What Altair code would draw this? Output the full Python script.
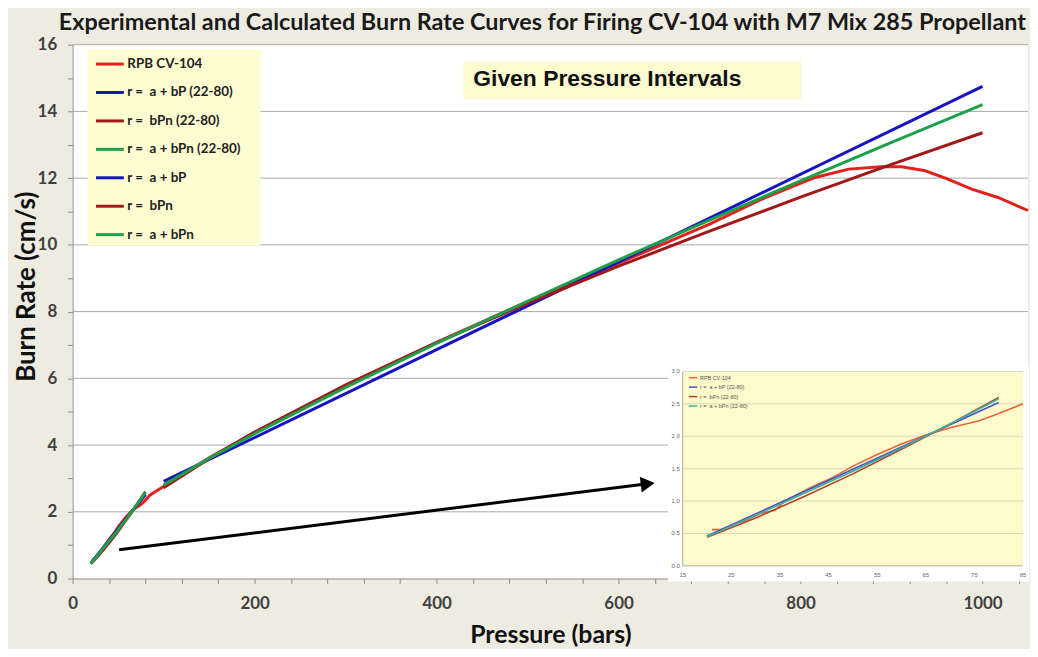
import altair as alt
import pandas as pd

# ---------------- data ----------------
NB = "\u00a0"
series_names = ["RPB CV-104", f"r ={NB} a + bP (22-80)", f"r ={NB} bPn (22-80)", f"r ={NB} a + bPn (22-80)",
                f"r ={NB} a + bP", f"r ={NB} bPn", f"r ={NB} a + bPn"]
series_colors = ["#E3211C", "#1414C0", "#A01818", "#1F9E4B", "#1414C0", "#A01818", "#1F9E4B"]

rpb_p = [21, 23, 26, 28, 31, 34, 36, 41, 46, 50, 55, 60, 65, 70, 76, 80, 85, 92, 100, 150, 200, 300,
         400, 500, 600, 700, 760, 816, 853, 889, 911, 937, 962, 988, 1017, 1050]
rpb_r = [0.56, 0.56, 0.65, 0.70, 0.81, 0.86, 1.00, 1.20, 1.37, 1.54, 1.72, 1.88, 2.02, 2.13, 2.24, 2.35,
         2.50, 2.62, 2.76, 3.62, 4.38, 5.80, 7.08, 8.30, 9.45, 10.62, 11.40, 12.02, 12.27, 12.34, 12.34,
         12.22, 11.97, 11.67, 11.42, 11.03]

lin22_p = [20, 50, 80]
lin22_r = [0.46, 1.49, 2.52]
pow22_p = [20, 30, 40, 50, 60, 70, 80]
pow22_r = [0.44, 0.74, 1.07, 1.42, 1.80, 2.19, 2.60]
apow22_p = [20, 30, 40, 50, 60, 70, 80]
apow22_r = [0.45, 0.78, 1.12, 1.46, 1.82, 2.19, 2.58]

lin_p = [100, 400, 700, 1000]
lin_r = [2.91, 6.86, 10.80, 14.75]
pow_p = [100, 150, 200, 300, 400, 500, 600, 700, 800, 900, 1000]
pow_r = [2.72, 3.59, 4.39, 5.80, 7.07, 8.25, 9.36, 10.41, 11.43, 12.41, 13.36]
apow_p = [100, 150, 200, 300, 400, 500, 600, 700, 800, 900, 1000]
apow_r = [2.80, 3.60, 4.34, 5.73, 7.05, 8.31, 9.55, 10.74, 11.92, 13.07, 14.20]

x_domain = [0, 1050]
y_domain = [0, 16]
x_ticks = list(range(0, 1041, 40))
y_ticks = [i * 0.5 for i in range(0, 33)]
grid_vals = [2, 4, 6, 8, 10, 12, 14, 16]

arrow_p = [51, 632]
arrow_r = [0.86, 2.84]

# inset (zoom on 15-85 bars)
inset_names = series_names[:4]
inset_colors = ["#E8643C", "#4F4FC8", "#B4402A", "#3BB0A0"]
inset_x_domain = [15, 85]
inset_y_domain = [0, 3]
inset_x_ticks = [15, 25, 35, 45, 55, 65, 75, 85]
inset_y_ticks = [0.0, 0.5, 1.0, 1.5, 2.0, 2.5, 3.0]
inset_grid = [0.5, 1.0, 1.5, 2.0, 2.5, 3.0]

# ---------------- tables ----------------
rows = []
for name, ps, rs in zip(series_names,
                        [rpb_p, lin22_p, pow22_p, apow22_p, lin_p, pow_p, apow_p],
                        [rpb_r, lin22_r, pow22_r, apow22_r, lin_r, pow_r, apow_r]):
    for i, (p, r) in enumerate(zip(ps, rs)):
        rows.append({"P": p, "r": r, "series": name, "k": i})
df = pd.DataFrame(rows)

irows = []
for name, ps, rs in zip(inset_names,
                        [rpb_p, lin22_p, pow22_p, apow22_p],
                        [rpb_r, lin22_r, pow22_r, apow22_r]):
    for i, (p, r) in enumerate(zip(ps, rs)):
        if p <= 85:
            irows.append({"Pi": p, "ri": r, "iseries": name, "k": i})
idf = pd.DataFrame(irows)

W, H = 961, 537
FONT_C = "Lato, sans-serif"
FONT = "Liberation Sans, Arial, sans-serif"

xs = alt.Scale(domain=x_domain, nice=False, zero=False)
ys = alt.Scale(domain=y_domain, nice=False)
# inset scales mapped to its pixel box inside the plot
ixs = alt.Scale(domain=inset_x_domain, range=[613.7, 956], nice=False, zero=False)
iys = alt.Scale(domain=inset_y_domain, range=[524.3, 328.7], nice=False)

grid = alt.Chart(pd.DataFrame({"g": grid_vals, "x0": [x_domain[0]] * len(grid_vals),
                               "x1": [x_domain[1]] * len(grid_vals)})).mark_rule(
    color="#A8A8A8", strokeWidth=1).encode(
    y=alt.Y("g:Q", scale=ys, axis=None),
    x=alt.X("x0:Q", scale=xs, axis=None), x2="x1:Q")

legend_box = alt.Chart(pd.DataFrame({"a": [0]})).mark_rect(color="#FEFDD2").encode(
    x=alt.value(15), x2=alt.value(189), y=alt.value(5), y2=alt.value(202))

note_box = alt.Chart(pd.DataFrame({"a": [0]})).mark_rect(color="#FCFBCF").encode(
    x=alt.value(393), x2=alt.value(733), y=alt.value(17), y2=alt.value(55))
note_text = alt.Chart(pd.DataFrame({"t": ["Given Pressure Intervals"]})).mark_text(
    align="left", baseline="middle", font=FONT, fontSize=23, fontWeight="bold", color="#111111").encode(
    x=alt.value(403), y=alt.value(35), text="t:N")

lines = alt.Chart(df).mark_line(strokeWidth=3, clip=False).encode(
    x=alt.X("P:Q", scale=xs,
            axis=alt.Axis(title="Pressure (bars)", values=x_ticks, format="d",
                          labelExpr="datum.value % 200 === 0 ? datum.label : ''",
                          grid=False, tickSize=5, tickColor="#8C8C8C", domainColor="#8C8C8C",
                          labelFont=FONT_C, labelFontSize=17, labelFontWeight="bold", labelColor="#404040",
                          labelPadding=12, titleFont=FONT_C, titleFontSize=25, titleFontWeight="bold",
                          titleColor="#111111", titlePadding=11, labelFlush=False)),
    y=alt.Y("r:Q", scale=ys,
            axis=alt.Axis(title="Burn Rate (cm/s)", values=y_ticks, format="d",
                          labelExpr="datum.value % 2 === 0 ? datum.label : ''",
                          grid=False, tickSize=5, tickColor="#8C8C8C", domainColor="#8C8C8C",
                          labelFont=FONT_C, labelFontSize=17, labelFontWeight="bold", labelColor="#404040",
                          labelPadding=11, titleFont=FONT_C, titleFontSize=26, titleFontWeight="bold",
                          titleColor="#111111", titleX=-33, titleY=243, titleBaseline="bottom",
                          titleAlign="center", labelFlush=False)),
    color=alt.Color("series:N", scale=alt.Scale(domain=series_names, range=series_colors),
                    sort=series_names,
                    legend=alt.Legend(title=None, orient="none", legendX=22, legendY=4,
                                      symbolType="stroke", symbolSize=784, symbolStrokeWidth=3,
                                      labelFont=FONT_C, labelFontSize=13.5, labelFontWeight="bold",
                                      labelColor="#222222", labelOffset=2, rowPadding=6.6, padding=0)),
    detail="series:N",
    order="k:Q")

arrow_df = pd.DataFrame({"P": arrow_p, "r": arrow_r})
arrow_line = alt.Chart(arrow_df).mark_line(color="black", strokeWidth=3).encode(
    x=alt.X("P:Q", scale=xs, axis=None), y=alt.Y("r:Q", scale=ys, axis=None))
arrow_head = alt.Chart(arrow_df.tail(1)).mark_point(
    shape="triangle-right", filled=True, color="black", opacity=1, size=260, angle=353).encode(
    x=alt.X("P:Q", scale=xs, axis=None), y=alt.Y("r:Q", scale=ys, axis=None))

# ---------------- inset ----------------
inset_panel = alt.Chart(pd.DataFrame({"a": [0]})).mark_rect(color="white").encode(
    x=alt.value(599), x2=alt.value(962), y=alt.value(322), y2=alt.value(540))
inset_bg = alt.Chart(pd.DataFrame({"x0": [inset_x_domain[0]], "x1": [inset_x_domain[1]],
                                   "y0": [inset_y_domain[0]], "y1": [inset_y_domain[1]]})).mark_rect(
    color="#FDFACB").encode(
    x=alt.X("x0:Q", scale=ixs, axis=None), x2="x1:Q",
    y=alt.Y("y0:Q", scale=iys, axis=None), y2="y1:Q")
inset_gridlines = alt.Chart(pd.DataFrame({"g": inset_grid,
                                          "x0": [inset_x_domain[0]] * len(inset_grid),
                                          "x1": [inset_x_domain[1]] * len(inset_grid)})).mark_rule(
    color="#DEDBB4", strokeWidth=1).encode(
    y=alt.Y("g:Q", scale=iys, axis=None), x=alt.X("x0:Q", scale=ixs, axis=None), x2="x1:Q")
inset_xaxis = alt.Chart(pd.DataFrame({"y0": [inset_y_domain[0]], "x0": [inset_x_domain[0]],
                                      "x1": [inset_x_domain[1]]})).mark_rule(
    color="#B0B0A0", strokeWidth=1).encode(
    y=alt.Y("y0:Q", scale=iys, axis=None), x=alt.X("x0:Q", scale=ixs, axis=None), x2="x1:Q")
inset_yaxis = alt.Chart(pd.DataFrame({"x0": [inset_x_domain[0]], "y0": [inset_y_domain[0]],
                                      "y1": [inset_y_domain[1]]})).mark_rule(
    color="#B0B0A0", strokeWidth=1).encode(
    x=alt.X("x0:Q", scale=ixs, axis=None), y=alt.Y("y0:Q", scale=iys, axis=None), y2="y1:Q")
inset_xlabels = alt.Chart(pd.DataFrame({"v": inset_x_ticks, "y0": [inset_y_domain[0]] * len(inset_x_ticks)})).mark_text(
    fontSize=6, color="#666666", dy=9, font=FONT).encode(
    x=alt.X("v:Q", scale=ixs, axis=None), y=alt.Y("y0:Q", scale=iys, axis=None), text=alt.Text("v:Q", format="d"))
inset_ylabels = alt.Chart(pd.DataFrame({"v": inset_y_ticks, "x0": [inset_x_domain[0]] * len(inset_y_ticks)})).mark_text(
    fontSize=6, color="#666666", dx=-3, align="right", font=FONT).encode(
    x=alt.X("x0:Q", scale=ixs, axis=None), y=alt.Y("v:Q", scale=iys, axis=None), text=alt.Text("v:Q", format=".1f"))
inset_lines = alt.Chart(idf).mark_line(strokeWidth=1.6, clip=False).encode(
    x=alt.X("Pi:Q", scale=ixs, axis=None),
    y=alt.Y("ri:Q", scale=iys, axis=None),
    color=alt.Color("iseries:N", scale=alt.Scale(domain=inset_names, range=inset_colors), sort=inset_names,
                    legend=alt.Legend(title=None, orient="none", legendX=619, legendY=330,
                                      symbolType="stroke", symbolSize=70, symbolStrokeWidth=1.5,
                                      labelFont=FONT, labelFontSize=5.5, labelColor="#555555",
                                      labelOffset=2, rowPadding=0.5, padding=0)),
    order="k:Q")

chart = alt.layer(
    grid, legend_box, note_box, note_text, lines, arrow_line, arrow_head,
    inset_panel, inset_bg, inset_gridlines, inset_xaxis, inset_yaxis, inset_xlabels, inset_ylabels, inset_lines
).resolve_scale(x="independent", y="independent", color="independent").properties(
    width=W, height=H,
    autosize=alt.AutoSizeParams(type="none"),
    padding={"left": 65, "top": 35, "right": 2, "bottom": 69},
    background="#EEECE1",
    title=alt.TitleParams(
        text="Experimental and Calculated Burn Rate Curves for Firing CV-104 with M7 Mix 285 Propellant",
        font=FONT_C, fontSize=23.5, fontWeight="bold", color="#1A1A1A", anchor="middle", offset=1, dx=-8)
).configure_view(fill="white", stroke=None)

chart.save("out.html", embed_options={"renderer": "svg", "actions": False})
